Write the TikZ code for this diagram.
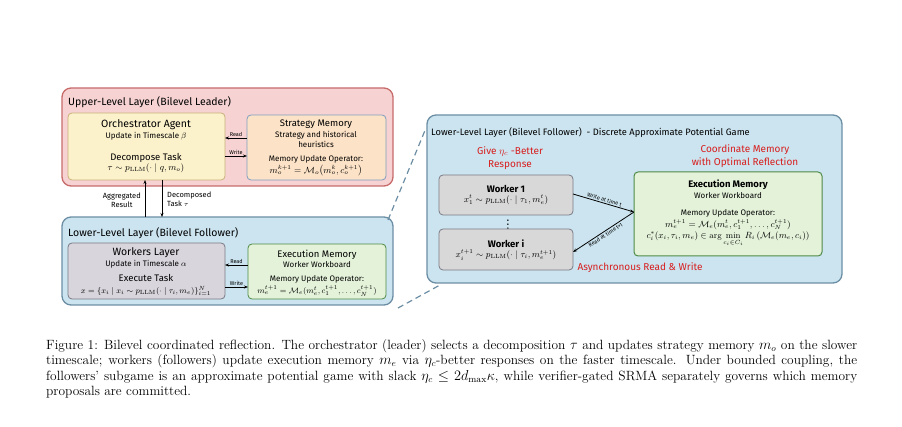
\documentclass[tikz,border=0pt]{standalone}
\usepackage{amsmath,amssymb}
\usepackage{fontspec}
\newfontfamily\hand{Fira Sans}
\usetikzlibrary{arrows.meta}
\definecolor{upfill}{HTML}{F6D2D2}\definecolor{updraw}{HTML}{C76A6A}
\definecolor{lofill}{HTML}{CBE4EF}\definecolor{lodraw}{HTML}{6C8EA4}
\definecolor{orfill}{HTML}{FBF1CB}\definecolor{ordraw}{HTML}{C9B27A}
\definecolor{smfill}{HTML}{FCE2C6}\definecolor{smdraw}{HTML}{7E9EC0}
\definecolor{wkfill}{HTML}{D9D5DC}\definecolor{wkdraw}{HTML}{7A7A85}
\definecolor{emfill}{HTML}{E4F2D9}\definecolor{emdraw}{HTML}{4E8A48}
\definecolor{w2fill}{HTML}{D9D8D9}
\definecolor{redt}{HTML}{D81E1E}
\begin{document}
\begin{tikzpicture}[x=1pt,y=-1pt,
 layer/.style={rounded corners=9pt,line width=1.3pt},
 box/.style={rounded corners=4pt,line width=0.8pt},
 lbl/.style={font=\hand\fontsize{7.5}{9}\selectfont,inner sep=0pt},
 txt/.style={font=\hand\fontsize{8}{10.5}\selectfont,align=center,inner sep=0pt},
 ttl/.style={font=\hand\fontsize{10.5}{12}\selectfont,inner sep=0pt},
 red/.style={font=\hand\fontsize{10}{13}\selectfont,text=redt,align=center,inner sep=0pt},
 arr/.style={-{Stealth[length=4pt,width=3pt]},line width=0.8pt},
 sm/.style={font=\hand\fontsize{5.5}{6}\selectfont,inner sep=1pt}]
\useasboundingbox (0,0) rectangle (902,427);
% upper layer
\draw[layer,fill=upfill,draw=updraw] (62,88) rectangle (393,186);
\node[ttl,anchor=west] (ut) at (68,102) {Upper-Level Layer (Bilevel Leader)};
\draw[box,fill=orfill,draw=ordraw] (68,113) rectangle (225,180);
\node[txt] (oa) at (146,130) {{\fontsize{10.5}{12}\selectfont Orchestrator Agent}\\Update in Timescale $\beta$};
\node[txt] (od) at (146,163) {{\fontsize{9.5}{11}\selectfont Decompose Task}\\{\fontsize{9}{11}\selectfont$\tau\sim p_{\mathrm{LLM}}(\cdot\mid q,m_o)$}};
\draw[box,fill=smfill,draw=smdraw] (247,115) rectangle (386,180);
\node[txt] (sm) at (316,134) {{\fontsize{9.5}{11}\selectfont Strategy Memory}\\Strategy and historical\\heuristics};
\node[txt] (smo) at (316,166) {Memory Update Operator:\\[1pt]{\fontsize{9}{11}\selectfont$m_o^{k+1}=\mathcal{M}_o\big(m_o^k,c_o^{k+1}\big)$}};
\coordinate (sR) at (247,138); \coordinate (oR) at (225,138);
\coordinate (oW) at (225,156); \coordinate (sW) at (247,156);
\draw[arr] (sR) -- node[sm,above]{Read} (oR);
\draw[arr] (oW) -- node[sm,above]{Write} (sW);
% lower layer
\draw[layer,fill=lofill,draw=lodraw] (62,217) rectangle (393,305);
\node[ttl,anchor=west] (lt) at (68,233) {Lower-Level Layer (Bilevel Follower)};
\draw[box,fill=wkfill,draw=wkdraw] (68,243) rectangle (225,299);
\node[txt] (wl) at (146,258) {{\fontsize{10.5}{12}\selectfont Workers Layer}\\Update in Timescale $\alpha$};
\node[txt] (wt) at (146,285) {{\fontsize{9.5}{11}\selectfont Execute Task}\\[1pt]$x=\{x_i\mid x_i\sim p_{\mathrm{LLM}}(\cdot\mid\tau_i,m_e)\}_{i=1}^N$};
\draw[box,fill=emfill,draw=emdraw] (248,244) rectangle (386,299);
\node[txt] (em) at (317,259) {{\fontsize{9.5}{11}\selectfont Execution Memory}\\Worker Workboard};
\node[txt] (emo) at (317,286) {Memory Update Operator:\\[1pt]$m_e^{t+1}=\mathcal{M}_e(m_e^t,c_1^{t+1},\dots,c_N^{t+1})$};
\coordinate (eR) at (248,265); \coordinate (wR) at (225,265);
\coordinate (wW) at (225,287); \coordinate (eW) at (248,287);
\draw[arr] (eR) -- node[sm,above]{Read} (wR);
\draw[arr] (wW) -- node[sm,above]{Write} (eW);
% vertical
\coordinate (a1) at (145,217); \coordinate (a2) at (145,180);
\coordinate (b1) at (162,180); \coordinate (b2) at (162,217);
\draw[arr] (a1) -- (a2);
\draw[arr] (b1) -- (b2);
\node[lbl,align=center,anchor=east] (ag) at (141,200) {Aggregated\\Result};
\node[lbl,align=left,anchor=west] (dt) at (167,199) {Decomposed\\Task $\tau$};
% dashed
\coordinate (d1) at (388,220); \coordinate (d2) at (426,128);
\coordinate (d3) at (398,308); \coordinate (d4) at (440,285);
\draw[line width=1.2pt,draw=lodraw,dash pattern=on 6pt off 4pt] (d1) -- (d2);
\draw[line width=1.2pt,draw=lodraw,dash pattern=on 6pt off 4pt] (d3) -- (d4);
% right
\draw[layer,fill=lofill,draw=lodraw] (427,115) rectangle (842,283);
\node[ttl,anchor=west,font=\hand\fontsize{9.3}{11}\selectfont] (rt) at (431,133) {Lower-Level Layer (Bilevel Follower) \ - Discrete Approximate Potential Game};
\node[red] (gb) at (510,158) {Give $\eta_c$ -Better\\Response};
\node[red] (cm) at (745,156) {Coordinate Memory\\with Optimal Reflection};
\draw[box,fill=w2fill,draw=wkdraw] (439,175) rectangle (573,215);
\node[txt] (w1) at (506,195) {{\fontsize{9.5}{11}\selectfont\bfseries Worker 1}\\{\fontsize{9}{11}\selectfont$x_1^t\sim p_{\mathrm{LLM}}(\cdot\mid\tau_1,m_e^t)$}};
\node[font=\bfseries] (dots) at (508,222) {$\vdots$};
\draw[box,fill=w2fill,draw=wkdraw] (439,229) rectangle (573,270);
\node[txt] (wi) at (506,250) {{\fontsize{9.5}{11}\selectfont\bfseries Worker i}\\{\fontsize{9}{11}\selectfont$x_i^{t+1}\sim p_{\mathrm{LLM}}(\cdot\mid\tau_i,m_e^{t+1})$}};
\draw[box,fill=emfill,draw=emdraw,line width=1pt] (634,172) rectangle (822,256);
\node[txt] (em2) at (728,189) {{\fontsize{9.5}{11}\selectfont\bfseries Execution Memory}\\Worker Workboard};
\node[txt] (em2o) at (728,228) {Memory Update Operator:\\[1pt]{\fontsize{8.6}{11}\selectfont$m_e^{t+1}=\mathcal{M}_e(m_e^t,c_1^{t+1},\dots,c_N^{t+1})$}\\[1pt]{\fontsize{8.6}{11}\selectfont$c_i^*(x_i,\tau_i,m_e)\in\arg\min\limits_{c_i\in C_i}R_i\left(\mathcal{M}_e(m_e,c_i)\right)$}};
\coordinate (p1) at (573,194); \coordinate (pm) at (634,212); \coordinate (p2) at (573,252);
\draw[arr] (p1) -- node[sm,above,sloped]{Write at time t} (pm);
\draw[arr] (pm) -- node[sm,below,sloped]{Read at time t+1} (p2);
\node[red] (as) at (640,268) {Asynchronous Read \& Write};
% caption
\node[anchor=north west,inner sep=0pt,text width=811pt,align=justify,font=\fontsize{13.4}{15.5}\selectfont] (cap) at (46,339)
{Figure 1: Bilevel coordinated reflection. The orchestrator (leader) selects a decomposition $\tau$ and updates strategy memory $m_o$ on the slower timescale; workers (followers) update execution memory $m_e$ via $\eta_c$-better responses on the faster timescale. Under bounded coupling, the followers' subgame is an approximate potential game with slack $\eta_c\le 2d_{\max}\kappa$, while verifier-gated SRMA separately governs which memory proposals are committed.};
\end{tikzpicture}
\end{document}
